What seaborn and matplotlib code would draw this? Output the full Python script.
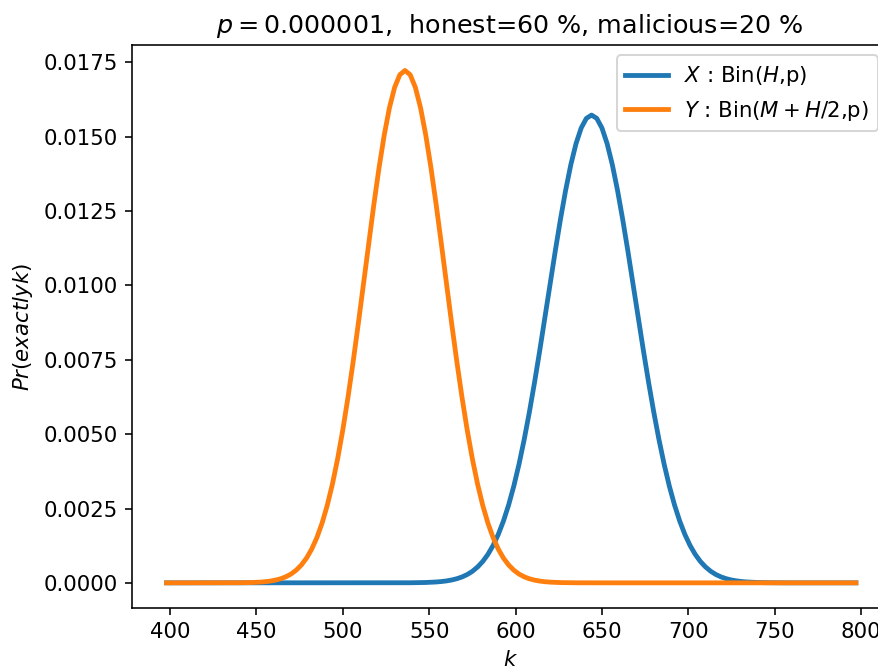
import matplotlib
matplotlib.use('Agg')
import matplotlib.pyplot as plt
import numpy as np
import pandas as pd
import seaborn as sns

# k values on the x axis (every 3rd k)
k = np.arange(398, 798, 3)

# Pr(exactly k) for X : Bin(H,p), peak near k=644
x_pr = [0.0, 0.0, 0.0, 0.0, 0.0, 0.0, 0.0, 0.0, 0.0, 0.0,
        0.0, 0.0, 0.0, 0.0, 0.0, 0.0, 0.0, 0.0, 0.0, 0.0,
        0.0, 0.0, 0.0, 0.0, 0.0, 0.0, 0.0, 0.0, 0.0, 0.0,
        0.0, 0.0, 0.0, 0.0, 0.0, 0.0, 0.0, 0.0, 0.0, 0.0,
        0.0, 0.0, 0.0, 0.0, 0.0, 0.0000011, 0.0000018, 0.0000030, 0.0000048, 0.0000077,
        0.0000121, 0.0000189, 0.0000289, 0.0000437, 0.0000651, 0.0000957, 0.000139, 0.000198, 0.000279, 0.000388,
        0.000532, 0.000718, 0.000957, 0.001258, 0.001629, 0.002081, 0.002622, 0.003257, 0.003990, 0.004820,
        0.005742, 0.006745, 0.007812, 0.008924, 0.010051, 0.011164, 0.012227, 0.013205, 0.014064, 0.014770,
        0.015296, 0.015620, 0.015730, 0.015620, 0.015296, 0.014770, 0.014064, 0.013205, 0.012227, 0.011164,
        0.010051, 0.008924, 0.007812, 0.006745, 0.005742, 0.004820, 0.003990, 0.003257, 0.002622, 0.002081,
        0.001629, 0.001258, 0.000957, 0.000718, 0.000532, 0.000388, 0.000279, 0.000198, 0.000139, 0.0000957,
        0.0000651, 0.0000437, 0.0000289, 0.0000189, 0.0000121, 0.0000077, 0.0000048, 0.0000030, 0.0000018, 0.0000011,
        0.0, 0.0, 0.0, 0.0, 0.0, 0.0, 0.0, 0.0, 0.0, 0.0,
        0.0, 0.0, 0.0, 0.0]

# Pr(exactly k) for Y : Bin(M+H/2,p), peak near k=536
y_pr = [0.0, 0.0, 0.0, 0.0, 0.0, 0.0, 0.0, 0.0, 0.0, 0.0,
        0.0, 0.0, 0.0000011, 0.0000018, 0.0000032, 0.0000054, 0.0000090, 0.0000148, 0.0000239, 0.0000379,
        0.0000591, 0.0000907, 0.000137, 0.000203, 0.000296, 0.000425, 0.000600, 0.000832, 0.001135, 0.001522,
        0.002008, 0.002606, 0.003324, 0.004170, 0.005143, 0.006239, 0.007442, 0.008729, 0.010068, 0.011419,
        0.012736, 0.013968, 0.015064, 0.015976, 0.016661, 0.017086, 0.017230, 0.017086, 0.016661, 0.015976,
        0.015064, 0.013968, 0.012736, 0.011419, 0.010068, 0.008729, 0.007442, 0.006239, 0.005143, 0.004170,
        0.003324, 0.002606, 0.002008, 0.001522, 0.001135, 0.000832, 0.000600, 0.000425, 0.000296, 0.000203,
        0.000137, 0.0000907, 0.0000591, 0.0000379, 0.0000239, 0.0000148, 0.0000090, 0.0000054, 0.0000032, 0.0000018,
        0.0000011, 0.0, 0.0, 0.0, 0.0, 0.0, 0.0, 0.0, 0.0, 0.0,
        0.0, 0.0, 0.0, 0.0, 0.0, 0.0, 0.0, 0.0, 0.0, 0.0,
        0.0, 0.0, 0.0, 0.0, 0.0, 0.0, 0.0, 0.0, 0.0, 0.0,
        0.0, 0.0, 0.0, 0.0, 0.0, 0.0, 0.0, 0.0, 0.0, 0.0,
        0.0, 0.0, 0.0, 0.0, 0.0, 0.0, 0.0, 0.0, 0.0, 0.0,
        0.0, 0.0, 0.0, 0.0]

labels = [r'$X$ : Bin($H$,p)', r'$Y$ : Bin($M+H/2$,p)']
colors = ['#1f77b4', '#ff7f0e']

df = pd.DataFrame({'k': k, 'X': x_pr, 'Y': y_pr})

plt.rcParams['font.size'] = 10.6

fig = plt.figure(figsize=(878 / 144, 668 / 144), dpi=144)
# the original is cropped on the right, so the axes run a bit past the edge
ax = fig.add_axes([0.150, 0.0891, 0.862, 0.8437])

sns.lineplot(data=df, x='k', y='X', ax=ax, color=colors[0], linewidth=2.4, label=labels[0])
sns.lineplot(data=df, x='k', y='Y', ax=ax, color=colors[1], linewidth=2.4, label=labels[1])

ax.set_xlim(377.8, 815.9)
ax.set_ylim(-0.000862, 0.01809)
ax.set_xticks(np.arange(400, 801, 50))
ax.set_yticks(np.arange(0, 0.0176, 0.0025))
ax.spines['right'].set_visible(False)
ax.set_title(r'$p = 0.000001$,  honest=60 %, malicious=20 %', fontsize=12.7)
ax.set_xlabel(r'$k$')
ax.set_ylabel(r'$Pr(exactly k)$')
ax.legend(loc='upper right')

fig.savefig('out.png', dpi=144)
plt.close(fig)
